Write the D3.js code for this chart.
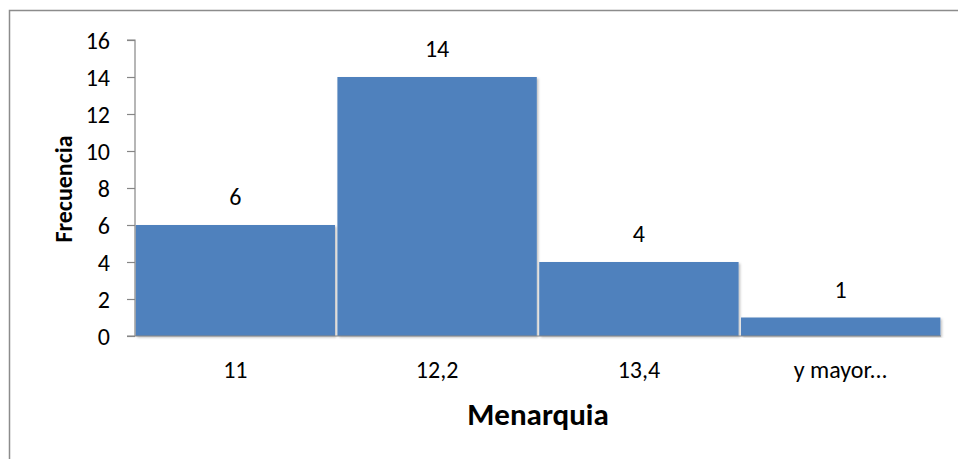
<!DOCTYPE html>
<html>
<head>
<meta charset="utf-8">
<script src="https://cdn.jsdelivr.net/npm/d3@7/dist/d3.min.js"></script>
<style>
  html, body { margin: 0; padding: 0; background: #fff; }
  svg { display: block; }
  text { font-family: Carlito, Calibri, Lato, "Open Sans", sans-serif; fill: #000; }
</style>
</head>
<body>
<svg id="chart" width="958" height="459"></svg>
<script>
// Histogram data: bin labels and frequencies
const categories = ["11", "12,2", "13,4", "y mayor..."];
const frequencies = [6, 14, 4, 1];
const yTicks = [0, 2, 4, 6, 8, 10, 12, 14, 16];

const FONT = "Carlito, Calibri, Lato, 'Open Sans', sans-serif";
const svg = d3.select("#chart");

// Outer chart frame
svg.append("rect")
  .attr("x", 9.5).attr("y", 10.5)
  .attr("width", 1000).attr("height", 500)
  .attr("fill", "none")
  .attr("stroke", "#8c8c8c")
  .attr("stroke-width", 1.5);

const plot = { left: 135, right: 941, top: 40, bottom: 336 };

const x = d3.scaleBand()
  .domain(categories)
  .range([plot.left, plot.right])
  .paddingInner(0.012)
  .paddingOuter(0.003);

const y = d3.scaleLinear()
  .domain([0, 16])
  .range([plot.bottom, plot.top]);

// Subtle bar shadow
const defs = svg.append("defs");
const f = defs.append("filter").attr("id", "shadow")
  .attr("x", "-5%").attr("y", "-5%").attr("width", "110%").attr("height", "115%");
f.append("feDropShadow")
  .attr("dx", 1.5).attr("dy", 1.5).attr("stdDeviation", 1.2)
  .attr("flood-color", "#000").attr("flood-opacity", 0.25);

// Bars
svg.append("g").selectAll("rect")
  .data(frequencies)
  .join("rect")
  .attr("x", (d, i) => x(categories[i]))
  .attr("y", d => y(d))
  .attr("width", x.bandwidth())
  .attr("height", d => y(0) - y(d))
  .attr("fill", "#4F81BD")
  .attr("filter", "url(#shadow)");

// Value labels above bars
svg.append("g").selectAll("text")
  .data(frequencies)
  .join("text")
  .attr("x", (d, i) => x(categories[i]) + x.bandwidth() / 2)
  .attr("y", d => y(d) - 20)
  .attr("text-anchor", "middle")
  .attr("font-size", 24)
  .text(d => d);

// Y axis
const yAxis = svg.append("g")
  .attr("transform", `translate(${plot.left},0)`)
  .call(d3.axisLeft(y).tickValues(yTicks).tickSize(8).tickPadding(17));
yAxis.selectAll("line, path").attr("stroke", "#868686").attr("stroke-width", 1.2);
yAxis.select(".domain").attr("d", `M-8,${plot.top}H0V${plot.bottom}`);
yAxis.selectAll("text")
  .attr("dy", "0.34em")
  .attr("font-size", 24).attr("font-family", FONT).attr("fill", "#000");

// X axis
const xAxis = svg.append("g")
  .attr("transform", `translate(0,${plot.bottom})`)
  .call(d3.axisBottom(x).tickSize(0));
xAxis.select(".domain").attr("d", `M${plot.left - 8},0H${plot.right}`)
  .attr("stroke", "#868686").attr("stroke-width", 1.2);
xAxis.selectAll("text")
  .attr("y", 42).attr("dy", 0)
  .attr("font-size", 24).attr("font-family", FONT).attr("fill", "#000");

// Axis titles
svg.append("text")
  .attr("x", 538).attr("y", 425)
  .attr("text-anchor", "middle")
  .attr("font-size", 31)
  .attr("font-weight", "bold")
  .text("Menarquia");

svg.append("text")
  .attr("transform", "translate(72,189) rotate(-90)")
  .attr("text-anchor", "middle")
  .attr("font-size", 24)
  .attr("font-weight", "bold")
  .text("Frecuencia");
</script>
</body>
</html>
